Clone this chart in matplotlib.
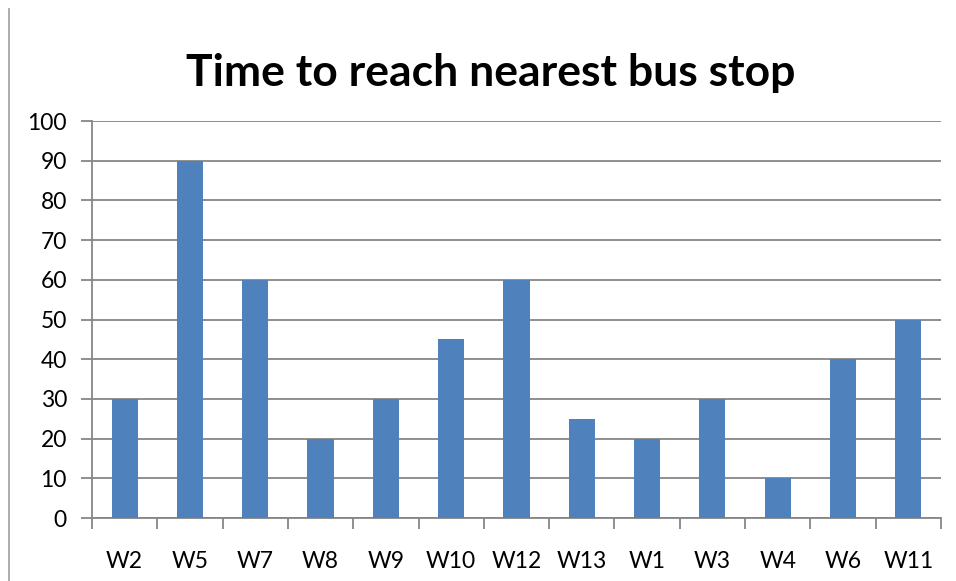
import matplotlib.pyplot as plt
from matplotlib.lines import Line2D
import numpy as np

plt.rcParams['font.family'] = ['Lato', 'DejaVu Sans']

# data
wards = ['W2', 'W5', 'W7', 'W8', 'W9', 'W10', 'W12', 'W13', 'W1', 'W3', 'W4', 'W6', 'W11']
minutes = [30, 90, 60, 20, 30, 45, 60, 25, 20, 30, 10, 40, 50]

fig = plt.figure(figsize=(9.56, 5.81), dpi=100)
ax = fig.add_axes([0.0962, 0.1084, 0.8881, 0.6833])

x = np.arange(len(wards))
ax.bar(x, minutes, width=0.4, color='#4F81BD', zorder=3)

ax.set_xlim(-0.5, len(wards) - 0.5)
ax.set_ylim(0, 100)
ax.set_yticks(range(0, 101, 10))
ax.set_xticks(x)
ax.set_xticklabels(wards)
ax.set_xticks(np.arange(-0.5, len(wards), 1), minor=True)

ax.grid(axis='y', color='#868686', linewidth=1.3, zorder=0)
for s in ['top', 'right']:
    ax.spines[s].set_visible(False)
ax.spines['left'].set_color('#868686')
ax.spines['bottom'].set_color('#868686')
ax.spines['left'].set_linewidth(1.3)
ax.spines['bottom'].set_linewidth(1.3)

ax.tick_params(axis='y', length=8, width=1.3, color='#868686', labelsize=16.5, pad=10)
ax.tick_params(axis='x', which='major', length=0, labelsize=16.5, pad=24)
ax.tick_params(axis='x', which='minor', length=8, width=1.3, color='#868686')

fig.text(0.513, 0.875, 'Time to reach nearest bus stop', ha='center', va='center',
         fontsize=32, fontweight='bold')

# left border line
fig.add_artist(Line2D([9/956, 9/956], [0, 1 - 9/581], color='#A6A6A6', linewidth=1.3))

plt.savefig('out.png', dpi=100)
